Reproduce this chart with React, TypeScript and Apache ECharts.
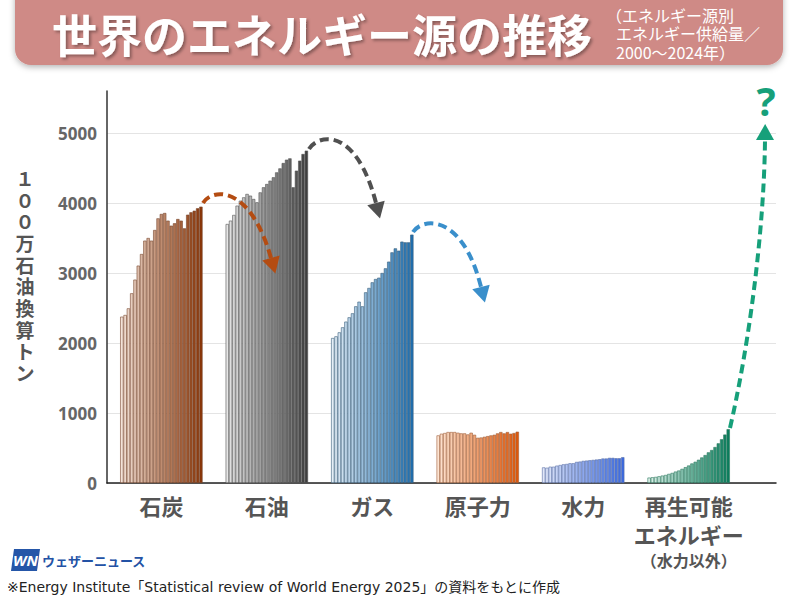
import React, { useEffect, useRef } from "react";
import * as echarts from "echarts";

const YEARS = [
  "2000", "2001", "2002", "2003", "2004", "2005", "2006", "2007", "2008", "2009",
  "2010", "2011", "2012", "2013", "2014", "2015", "2016", "2017", "2018", "2019",
  "2020", "2021", "2022", "2023", "2024",
];

const GROUP_KEYS = ["coal", "oil", "gas", "nuclear", "hydro", "renew"];
const GROUP_LABELS = ["石炭", "石油", "ガス", "原子力", "水力", "再生可能\nエネルギー\n{s|（水力以外）}"];

const COAL = [2376, 2400, 2495, 2710, 2905, 3105, 3271, 3462, 3500, 3462, 3614, 3781, 3843, 3857, 3748, 3676, 3710, 3771, 3748, 3638, 3833, 3867, 3890, 3924, 3948];
const OIL = [3700, 3748, 3829, 3962, 4033, 4081, 4129, 4105, 4057, 4010, 4152, 4224, 4271, 4319, 4367, 4438, 4495, 4571, 4619, 4638, 4224, 4462, 4605, 4700, 4748];
const GAS = [2071, 2095, 2152, 2224, 2305, 2367, 2424, 2524, 2590, 2524, 2724, 2786, 2867, 2914, 2933, 3000, 3067, 3162, 3295, 3352, 3319, 3448, 3438, 3438, 3548];
const NUCLEAR = [680, 704, 714, 728, 728, 728, 718, 709, 709, 694, 718, 689, 646, 650, 660, 670, 680, 689, 709, 728, 709, 728, 704, 714, 733];
const HYDRO = [223, 218, 233, 233, 248, 257, 267, 272, 282, 282, 301, 306, 316, 320, 325, 330, 335, 340, 350, 350, 359, 359, 354, 354, 369];
const RENEW = [77, 82, 87, 96, 106, 115, 130, 144, 163, 178, 202, 226, 250, 279, 303, 332, 365, 399, 438, 471, 514, 567, 625, 692, 769];

const SERIES_VALUES = [COAL, OIL, GAS, NUCLEAR, HYDRO, RENEW];

const Y_MIN = 0;
const Y_MAX = 5600;
const Y_INTERVAL = 1000;

const PALETTES: [string, string, string][] = [
  ["#f3e2d8", "#8a3608", "#7a4a30"],
  ["#e6e6e6", "#3e3e3e", "#555555"],
  ["#e4eef6", "#1e6eae", "#3b5f7c"],
  ["#fde4d2", "#e0580a", "#a0603a"],
  ["#e1e7f8", "#3a69e0", "#5a70a8"],
  ["#dcf0e8", "#0b7d5c", "#2f7a62"],
];

const LEFT_PAD = 4;
const GAP = 7;
const RIGHT_PAD = 14;

function hexToRgb(h: string) {
  const n = parseInt(h.slice(1), 16);
  return [(n >> 16) & 255, (n >> 8) & 255, n & 255];
}
function mix(a: string, b: string, t: number) {
  const A = hexToRgb(a);
  const B = hexToRgb(b);
  const c = A.map((v, i) => Math.round(v + (B[i] - v) * t));
  return `rgb(${c[0]},${c[1]},${c[2]})`;
}

function buildData() {
  const cats: string[] = [];
  const items: any[] = [];
  for (let i = 0; i < LEFT_PAD; i++) {
    cats.push(`padL${i}`);
    items.push("-");
  }
  SERIES_VALUES.forEach((vals, g) => {
    const [light, dark, border] = PALETTES[g];
    vals.forEach((v, j) => {
      cats.push(`${GROUP_KEYS[g]}|${YEARS[j]}`);
      items.push({
        value: v,
        itemStyle: {
          color: mix(light, dark, j / (vals.length - 1)),
          borderColor: border,
          borderWidth: 0.6,
        },
      });
    });
    if (g < SERIES_VALUES.length - 1) {
      for (let i = 0; i < GAP; i++) {
        cats.push(`gap${g}-${i}`);
        items.push("-");
      }
    }
  });
  for (let i = 0; i < RIGHT_PAD; i++) {
    cats.push(`padR${i}`);
    items.push("-");
  }
  return { cats, items };
}

function arrow(
  p0: number[], p1: number[], p2: number[], p3: number[],
  color: string, headLen: number, headHalf: number
) {
  const dx = p3[0] - p2[0];
  const dy = p3[1] - p2[1];
  const L = Math.hypot(dx, dy) || 1;
  const ux = dx / L;
  const uy = dy / L;
  const tip = [p3[0] + ux * headLen, p3[1] + uy * headLen];
  const b1 = [p3[0] - uy * headHalf, p3[1] + ux * headHalf];
  const b2 = [p3[0] + uy * headHalf, p3[1] - ux * headHalf];
  return [
    {
      type: "bezierCurve",
      shape: {
        x1: p0[0], y1: p0[1],
        cpx1: p1[0], cpy1: p1[1],
        cpx2: p2[0], cpy2: p2[1],
        x2: p3[0], y2: p3[1],
      },
      style: { stroke: color, lineWidth: 4, lineDash: [9, 5], fill: null },
      z: 10,
    },
    {
      type: "polygon",
      shape: { points: [tip, b1, b2] },
      style: { fill: color },
      z: 10,
    },
  ];
}

const FONT = '"Noto Sans CJK JP", "Noto Sans", sans-serif';

export default function App() {
  const ref = useRef<HTMLDivElement>(null);

  useEffect(() => {
    document.body.style.margin = "0";
    if (!ref.current) return;
    const chart = echarts.init(ref.current, null, { renderer: "svg" });
    const { cats, items } = buildData();

    const option: any = {
      animation: false,
      backgroundColor: "#ffffff",
      textStyle: { fontFamily: FONT },
      grid: { left: 107, right: 24, top: 91, bottom: 117, containLabel: false },
      xAxis: {
        type: "category",
        data: cats,
        axisTick: { show: false },
        axisLine: { show: true, lineStyle: { color: "#222", width: 1.5 } },
        axisLabel: {
          interval: 0,
          color: "#555",
          fontSize: 22,
          fontWeight: "bold",
          fontFamily: FONT,
          lineHeight: 29,
          margin: 7,
          formatter: (val: string) => {
            const parts = val.split("|");
            if (parts.length === 2 && parts[1] === "2012") {
              return GROUP_LABELS[GROUP_KEYS.indexOf(parts[0])];
            }
            return "";
          },
          rich: {
            s: { fontSize: 16, lineHeight: 24, color: "#555", fontWeight: "bold", fontFamily: FONT },
          },
        },
        splitLine: { show: false },
      },
      yAxis: {
        type: "value",
        min: Y_MIN,
        max: Y_MAX,
        interval: Y_INTERVAL,
        axisLine: { show: true, lineStyle: { color: "#333", width: 1.5 } },
        axisTick: { show: false },
        axisLabel: {
          color: "#666",
          fontSize: 17,
          fontWeight: "bold",
          fontFamily: '"Open Sans", "Noto Sans", sans-serif',
          margin: 10,
          showMaxLabel: false,
          formatter: (v: number) => (v % Y_INTERVAL === 0 ? String(v) : ""),
        },
        splitLine: { show: true, showMaxLine: false, lineStyle: { color: "#e4e4e4", width: 1 } },
      },
      series: [
        {
          type: "bar",
          data: items,
          barCategoryGap: "0%",
          barGap: "0%",
        },
      ],
      graphic: [
        {
          type: "rect",
          shape: { x: 15, y: -20, width: 768, height: 85, r: 16 },
          style: {
            fill: "#cf8a86",
            shadowBlur: 6,
            shadowColor: "rgba(0,0,0,0.3)",
            shadowOffsetY: 2,
          },
          z: 1,
        },
        {
          type: "text",
          style: {
            text: "世界のエネルギー源の推移",
            x: 52,
            y: 33,
            fill: "#ffffff",
            fontSize: 45,
            fontWeight: "bold",
            fontFamily: FONT,
            textVerticalAlign: "middle",
            textShadowColor: "rgba(0,0,0,0.35)",
            textShadowBlur: 3,
            textShadowOffsetX: 2,
            textShadowOffsetY: 2,
          },
          z: 2,
        },
        {
          type: "text",
          style: { text: "（エネルギー源別", x: 606, y: 15, fill: "#fff", fontSize: 16, fontFamily: FONT, textVerticalAlign: "middle" },
          z: 2,
        },
        {
          type: "text",
          style: { text: "エネルギー供給量／", x: 616, y: 33, fill: "#fff", fontSize: 16, fontFamily: FONT, textVerticalAlign: "middle" },
          z: 2,
        },
        {
          type: "text",
          style: { text: "2000〜2024年）", x: 616, y: 52, fill: "#fff", fontSize: 16, fontFamily: FONT, textVerticalAlign: "middle" },
          z: 2,
        },
        {
          type: "text",
          style: {
            text: "１\n０\n０\n万\n石\n油\n換\n算\nト\nン",
            x: 25,
            y: 275,
            fill: "#555",
            fontSize: 19,
            lineHeight: 21.7,
            fontWeight: "bold",
            fontFamily: FONT,
            textAlign: "center",
            textVerticalAlign: "middle",
          },
        },
        ...arrow([203, 203], [212, 188], [250, 184], [271, 258], "#b44c12", 16, 9),
        ...arrow([309, 149], [318, 134], [356, 126], [376, 203], "#505050", 16, 9),
        ...arrow([413, 232], [422, 218], [462, 212], [481, 287], "#3a8fcb", 16, 9),
        ...arrow([730, 428], [748, 350], [764, 235], [765, 140], "#16a07a", 16, 9),
        {
          type: "text",
          style: {
            text: "?",
            x: 766,
            y: 100,
            fill: "#16a07a",
            fontSize: 40,
            fontWeight: "bold",
            fontFamily: '"Noto Sans", sans-serif',
            textAlign: "center",
            textVerticalAlign: "middle",
          },
        },
        {
          type: "polygon",
          shape: { points: [[14, 549], [40, 549], [37, 571], [11, 571]] },
          style: { fill: "#2556a8" },
        },
        {
          type: "text",
          style: {
            text: "WN",
            x: 25.5,
            y: 560,
            fill: "#fff",
            fontSize: 15,
            fontWeight: "bold",
            fontStyle: "italic",
            fontFamily: '"Noto Sans", sans-serif',
            textAlign: "center",
            textVerticalAlign: "middle",
          },
        },
        {
          type: "text",
          style: {
            text: "ウェザーニュース",
            x: 42,
            y: 560,
            fill: "#2352a5",
            fontSize: 13,
            fontWeight: "bold",
            fontFamily: FONT,
            textVerticalAlign: "middle",
          },
        },
        {
          type: "text",
          style: {
            text: "※Energy Institute「Statistical review of World Energy 2025」の資料をもとに作成",
            x: 7,
            y: 587,
            fill: "#222",
            fontSize: 14,
            fontFamily: '"DejaVu Sans", "Noto Sans CJK JP", sans-serif',
            textVerticalAlign: "middle",
          },
        },
      ],
    };

    chart.setOption(option);
    return () => {
      chart.dispose();
    };
  }, []);

  return <div ref={ref} style={{ width: 800, height: 600 }} />;
}
